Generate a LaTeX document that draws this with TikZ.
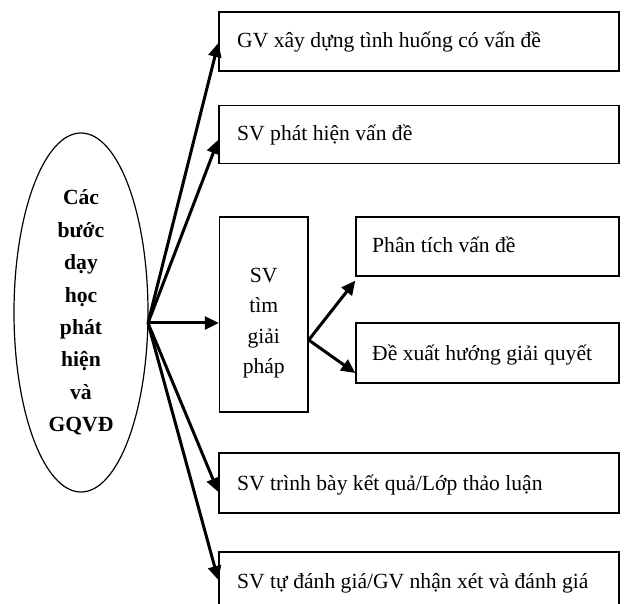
\documentclass[tikz,border=0pt]{standalone}
\usepackage{fontspec}
\setmainfont{Liberation Serif}
\usetikzlibrary{arrows.meta,calc,shapes.geometric}
\begin{document}
\begin{tikzpicture}[x=1pt,y=-1pt,
  boxsty/.style={draw,line width=1.4pt,rectangle,inner sep=0pt,outer sep=0pt,
    minimum height=59pt,font=\fontsize{21.6}{30}\selectfont,
    align=left,text height=18pt,text depth=5pt},
  wbox/.style={boxsty,minimum width=400pt,text width=364pt,xshift=16pt},
  sbox/.style={boxsty,minimum width=263pt,text width=231pt,xshift=8pt},
  arr/.style={line width=3pt,-{Triangle[length=14pt,width=13pt]}},
  ell/.style={draw,line width=1.2pt,ellipse,inner sep=0pt,minimum width=134pt,
    minimum height=359pt,align=center,font=\fontsize{21.6}{32.4}\selectfont\bfseries}]
\useasboundingbox (0,0) rectangle (627,604);
\clip (0,0) rectangle (627,604);
\fill[white] (0,0) rectangle (627,604);

\node[ell] (e) at (81,312.5) {Các\\bước\\dạy\\học\\phát\\hiện\\và\\GQVĐ};
\coordinate (o) at (148,323);

\tikzset{wbox/.style={boxsty,minimum width=400pt,text width=364pt},
  wtext/.style={font=\fontsize{21.6}{30}\selectfont,anchor=base west,inner sep=0pt}}
\node[draw,line width=1.4pt,inner sep=0pt,minimum width=400pt,minimum height=59pt] (b1) at (419,41.5) {};
\node[wtext] (t1) at (237,48) {GV xây dựng tình huống có vấn đề};
\node[draw,line width=1.4pt,inner sep=0pt,minimum width=400pt,minimum height=58pt] (b2) at (419,134.75) {};
\node[wtext] (t2) at (237,140.5) {SV phát hiện vấn đề};
\node[draw,line width=1.4pt,inner sep=0pt,minimum width=88.5pt,minimum height=195pt] (b3) at (263.75,314.5) {};
\node[align=center,inner sep=0pt,font=\fontsize{21.6}{30.3}\selectfont] (b3t) at ($(b3.center)+(0,8.5)$) {SV\\tìm\\giải\\pháp};
\node[draw,line width=1.4pt,inner sep=0pt,minimum width=263pt,minimum height=59pt] (b4) at (487.5,246.5) {};
\node[wtext] (t4) at (372,253) {Phân tích vấn đề};
\node[draw,line width=1.4pt,inner sep=0pt,minimum width=263pt,minimum height=60pt] (b5) at (487.5,353) {};
\node[wtext] (t5) at (372,360) {Đề xuất hướng giải quyết};
\node[draw,line width=1.4pt,inner sep=0pt,minimum width=400pt,minimum height=60pt] (b6) at (419,483) {};
\node[wtext] (t6) at (237,490) {SV trình bày kết quả/Lớp thảo luận};
\node[draw,line width=1.4pt,inner sep=0pt,minimum width=400pt,minimum height=60pt] (b7) at (419,582) {};
\node[wtext] (t7) at (237,588) {SV tự đánh giá/GV nhận xét và đánh giá};

\draw[arr] (o) -- ($(b1.west)+(0,1.5)$);
\draw[arr] (o) -- ($(b2.west)+(0,5)$);
\draw[arr] (o) -- (o -| b3.west);
\draw[arr] (o) -- ($(b6.west)+(0,9)$);
\draw[arr] (o) -- ($(b7.west)+(0,-2)$);

\coordinate (p) at ($(b3.east)+(0,25.5)$);
\draw[arr] (p) -- ($(b4.south west)+(0,4)$);
\draw[arr] (p) -- ($(b5.west)+(0,20)$);
\end{tikzpicture}
\end{document}
